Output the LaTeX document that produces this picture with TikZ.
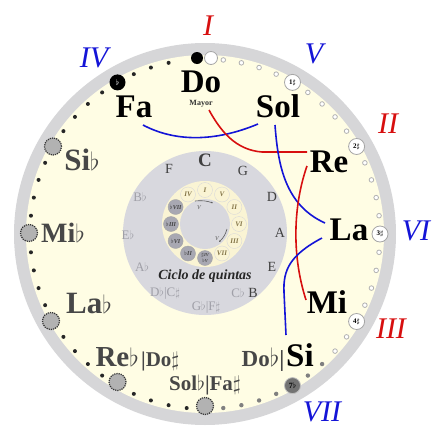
\documentclass[tikz,border=0pt]{standalone}
\usepackage{fontspec}
\setmainfont{Liberation Serif}
\usetikzlibrary{arrows.meta}
\definecolor{ringgray}{RGB}{214,214,216}
\definecolor{cream}{RGB}{255,253,228}
\definecolor{innergray}{RGB}{216,216,222}
\definecolor{ringcream}{RGB}{250,244,212}
\definecolor{minorgray}{RGB}{168,168,178}
\definecolor{bluel}{RGB}{20,20,215}
\definecolor{redl}{RGB}{215,15,15}
\definecolor{lightlab}{RGB}{160,160,168}
\definecolor{majtext}{RGB}{130,115,70}
\tikzset{
  note/.style={font=\bfseries\fontsize{33}{33}\selectfont, inner sep=0pt, anchor=base},
  orn/.style={font=\bfseries\fontsize{31}{31}\selectfont, inner sep=0pt, anchor=base, text=black!72},
  ornsmall/.style={font=\bfseries\fontsize{21}{21}\selectfont, inner sep=0pt, anchor=base, text=black!72},
  rom/.style={font=\itshape\fontsize{30}{30}\selectfont, inner sep=0pt, anchor=base},
  keysig/.style={circle, minimum size=16pt, inner sep=0pt, draw=black!35, fill=white, line width=0.8pt, font=\bfseries\fontsize{7}{7}\selectfont},
  ornc/.style={circle, minimum size=17pt, inner sep=0pt, draw=black!80, densely dotted, line width=1.2pt, fill=black!30},
  inlab/.style={font=\fontsize{14}{14}\selectfont, inner sep=0pt, text=black!75},
  inlight/.style={font=\fontsize{13}{13}\selectfont, inner sep=0pt, text=lightlab},
  majc/.style={circle, minimum size=15pt, inner sep=0pt, fill=ringcream, draw=black!15, line width=0.4pt, text=majtext, font=\itshape\bfseries\fontsize{7}{7}\selectfont},
  minc/.style={circle, minimum size=15pt, inner sep=0pt, fill=minorgray, draw=black!35, line width=0.4pt, text=black!75, font=\itshape\bfseries\fontsize{6}{6}\selectfont},
  conn/.style={line width=1.6pt}
}
\begin{document}
\begin{tikzpicture}[x=1pt,y=-1pt]
\useasboundingbox (0,0) rectangle (432,426);
% disks
\fill[ringgray] (205,234) circle (191pt);
\fill[cream] (205,234) circle (179pt);
\fill[innergray] (205,233) circle (82pt);
\fill[ringcream] (205,224) circle (43pt);
\fill[innergray] (205,224) circle (25pt);
% small dots on the outer ring
\foreach \a in {102,108,114,126,132,138,144,156,162,168,174,186,192,198,204,216,222,228,234,246,252,258,264}
  \fill[black!85] ({205+175*cos(\a)},{234-175*sin(\a)}) circle (2pt);
\foreach \a in {84,78,72,66,54,48,42,36,24,18,12,6,-6,-12,-18,-24,-36,-42}
  \draw[black!30, fill=white, line width=0.8pt] ({205+175*cos(\a)},{234-175*sin(\a)}) circle (2.3pt);
\foreach \a in {-48,-54,-66,-72,-78,-84}
  \fill[black!50] ({205+175*cos(\a)},{234-175*sin(\a)}) circle (2.2pt);
% key signature markers
\node[circle, fill=black, minimum size=12pt, inner sep=0pt] (m0a) at (197,58) {};
\node[keysig, minimum size=13pt] (m0b) at (211,58) {};
\node[circle, fill=black, minimum size=16pt, inner sep=0pt, text=white, font=\bfseries\fontsize{8}{8}\selectfont] (m1f) at (117.5,82.4) {$\flat$};
\node[keysig] (m1s) at (292.5,82.4) {1$\sharp$};
\node[keysig] (m2s) at (356.6,146.5) {2$\sharp$};
\node[keysig] (m3s) at (380,234) {3$\sharp$};
\node[keysig] (m4s) at (356.6,321.5) {4$\sharp$};
\node[circle, fill=black!55, draw=black!25, line width=0.8pt, minimum size=16pt, inner sep=0pt, text=black, font=\bfseries\fontsize{8}{8}\selectfont] (m7f) at (292.5,385.6) {7$\flat$};
\node[ornc] (o2) at (53,146.5) {};
\node[ornc] (o3) at (29,233) {};
\node[ornc] (o4) at (51,321) {};
\node[ornc] (o5) at (117.5,382) {};
\node[ornc] (o6) at (205,406) {};
% Roman numerals
\node[rom, text=redl] (rI) at (208,35) {I};
\node[rom, text=bluel] (rIV) at (94,67) {IV};
\node[rom, text=bluel] (rV) at (314,63) {V};
\node[rom, text=redl] (rII) at (388,133) {II};
\node[rom, text=bluel] (rVI) at (416,240) {VI};
\node[rom, text=redl] (rIII) at (391,338) {III};
\node[rom, text=bluel] (rVII) at (322,421) {VII};
% main note names
\node[note] (Do) at (201,92) {Do};
\node[inner sep=0pt, font=\bfseries\fontsize{8}{8}\selectfont, text=black!80] (mayor) at (201,104) {Mayor};
\node[note] (Fa) at (134,117) {Fa};
\node[note] (Sol) at (278,117) {Sol};
\node[note] (Re) at (329,172) {Re};
\node[note] (La) at (349,240) {La};
\node[note] (Mi) at (327,313) {Mi};
\node[note] (Si) at (300,366) {Si};
% ornate names
\node[orn] (Sib) at (82,170) {Si$\flat$};
\node[orn, font=\bfseries\fontsize{28}{28}\selectfont] (Mib) at (63,242) {Mi$\flat$};
\node[orn] (Lab) at (89,313) {La$\flat$};
\node[orn, font=\bfseries\fontsize{29}{29}\selectfont, anchor=base east] (Reb) at (139,366) {Re$\flat$};
\node[ornsmall, anchor=base west] (Dos) at (141,366) {|Do$\sharp$};
\node[ornsmall] (Solb) at (205,390) {Sol$\flat$|Fa$\sharp$};
\node[ornsmall, font=\bfseries\fontsize{23}{23}\selectfont] (Dob) at (263,366) {Do$\flat$|};
% inner disk labels
\node[inlab, font=\bfseries\fontsize{19}{19}\selectfont] (C) at (205,160) {C};
\node[inlab] (F) at (169,169) {F};
\node[inlab] (G) at (243,171) {G};
\node[inlab] (D) at (272,197) {D};
\node[inlab] (A) at (280,233) {A};
\node[inlab] (E) at (272,267) {E};
\node[inlab] (B) at (253,293) {B};
\node[inlight] (Cb) at (238,293) {C$\flat$};
\node[inlight] (Gb) at (206,307) {G$\flat$|F$\sharp$};
\node[inlight] (Db) at (165,293) {D$\flat$|C$\sharp$};
\node[inlight] (Ab) at (142,267) {A$\flat$};
\node[inlight] (Eb) at (128,235) {E$\flat$};
\node[inlight] (Bb) at (140,197) {B$\flat$};
\node[inner sep=0pt, font=\bfseries\itshape\fontsize{14}{14}\selectfont, text=black!85] (ciclo) at (205,276) {Ciclo de quintas};
% roman ring
\node[majc] (cI) at (205,190) {I};
\node[majc] (cV) at (222,194.5) {V};
\node[majc] (cII) at (234.4,207) {II};
\node[majc] (cVI) at (239,224) {VI};
\node[majc] (cIII) at (234.4,241) {III};
\node[majc] (cVII) at (222,253.5) {VII};
\node[minc, align=center, font=\itshape\bfseries\fontsize{4.5}{4.5}\selectfont] (cIVb) at (205,258) {$\sharp$IV\\$\flat$V};
\node[minc] (cbII) at (188,253.5) {$\flat$II};
\node[minc] (cbVI) at (175.6,241) {$\flat$VI};
\node[minc] (cbIII) at (171,224) {$\flat$III};
\node[minc] (cbVII) at (175.6,207) {$\flat$VII};
\node[majc] (cIV) at (188,194.5) {IV};
% small arrows inside
\coordinate (a1s) at (195,201);
\coordinate (a1e) at (213,203);
\draw[black!65, line width=0.6pt, -{Stealth[length=2pt]}] (a1s) to[bend left=12] (a1e);
\node[inner sep=0pt, font=\itshape\fontsize{6}{6}\selectfont, text=black!65] (v1) at (199,208) {V};
\coordinate (a2s) at (227,229);
\coordinate (a2e) at (219,242);
\draw[black!65, line width=0.6pt, -{Stealth[length=2pt]}] (a2s) to[bend left=15] (a2e);
\node[inner sep=0pt, font=\itshape\fontsize{6}{6}\selectfont, text=black!65] (v2) at (217,239) {V};
% connectors
\coordinate (faE) at (143,125);
\coordinate (solW) at (258,124);
\coordinate (doS) at (209,110);
\coordinate (reW) at (307,152);
\coordinate (solS) at (275,125);
\coordinate (laW) at (325,223);
\coordinate (reS) at (307,166);
\coordinate (miW) at (306,300);
\coordinate (laSW) at (322,238);
\coordinate (siN) at (286,335);
\draw[conn, bluel] (faE) .. controls (175,142) and (215,142) .. (solW);
\draw[conn, redl] (doS) .. controls (220,130) and (235,150) .. (262,152) -- (reW);
\draw[conn, bluel] (solS) .. controls (278,165) and (285,205) .. (laW);
\draw[conn, redl] (reS) .. controls (295,200) and (290,250) .. (miW);
\draw[conn, bluel] (laSW) .. controls (290,255) and (283,270) .. (284,292) -- (siN);
\end{tikzpicture}
\end{document}
